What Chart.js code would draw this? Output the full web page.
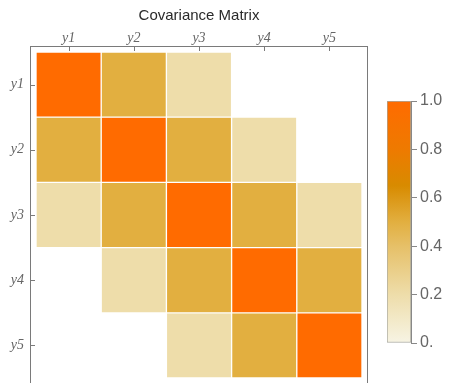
<!DOCTYPE html>
<html lang="en">
<head>
    <meta charset="UTF-8">
    <title>Covariance Matrix</title>

    <script src="https://cdn.jsdelivr.net/npm/chart.js"></script>

    <style>
        body {
            margin: 0;
            background: #fff;
            overflow: hidden;
        }

        .wrap {
            position: relative;
            width: 452px;
            height: 383px;
            overflow: hidden;
        }

        #matrix-chart {
            position: absolute;
            left: 0;
            top: 0;
        }

        #legend-chart {
            position: absolute;
            left: 360px;
            top: 80px;
        }
    </style>
</head>

<body>
    <div class="wrap">
        <canvas id="matrix-chart" width="452" height="400"></canvas>
        <canvas id="legend-chart" width="92" height="290"></canvas>
    </div>

    <script>
        // variable names (rows and columns)
        const varLabels = ["y1", "y2", "y3", "y4", "y5"];

        // covariance rows
        const rowY1 = [1.0, 0.5, 0.2, 0, 0];
        const rowY2 = [0.5, 1.0, 0.5, 0.2, 0];
        const rowY3 = [0.2, 0.5, 1.0, 0.5, 0.2];
        const rowY4 = [0, 0.2, 0.5, 1.0, 0.5];
        const rowY5 = [0, 0, 0.2, 0.5, 1.0];
        const matrixRows = [rowY1, rowY2, rowY3, rowY4, rowY5];

        // colour bar
        const barTicks = [0, 0.2, 0.4, 0.6, 0.8, 1.0];
        const stopValues = [0, 0.2, 0.4, 0.5, 0.65, 0.8, 1.0];
        const stopColors = ["#f7f4e4", "#eeddaa", "#e6c068", "#e2af40", "#d88b00", "#ee7a00", "#ff6b00"];

        function hexToRgb(h) {
            return [parseInt(h.slice(1, 3), 16), parseInt(h.slice(3, 5), 16), parseInt(h.slice(5, 7), 16)];
        }

        function valueColor(v) {
            for (let i = 1; i < stopValues.length; i++) {
                if (v <= stopValues[i]) {
                    const t = (v - stopValues[i - 1]) / (stopValues[i] - stopValues[i - 1]);
                    const a = hexToRgb(stopColors[i - 1]), b = hexToRgb(stopColors[i]);
                    const c = a.map((x, k) => Math.round(x + (b[k] - x) * t));
                    return `rgb(${c[0]}, ${c[1]}, ${c[2]})`;
                }
            }
            return stopColors[stopColors.length - 1];
        }

        const tickFont = { family: "'Liberation Serif', serif", style: "italic", size: 14 };

        // frame around the plot with inward tick marks
        const frameTicks = {
            id: "frameTicks",
            afterDatasetsDraw(chart) {
                const { ctx, chartArea: a, scales: { x, y } } = chart;
                ctx.save();
                ctx.strokeStyle = "#7a7a7a";
                ctx.lineWidth = 1;
                ctx.strokeRect(a.left + 0.5, a.top + 0.5, a.right - a.left - 1, a.bottom - a.top);
                ctx.beginPath();
                x.ticks.forEach(t => {
                    const px = Math.round(x.getPixelForValue(t.value)) + 0.5;
                    ctx.moveTo(px, a.top);
                    ctx.lineTo(px, a.top + 5);
                });
                y.ticks.forEach(t => {
                    const py = Math.round(y.getPixelForValue(t.value)) + 0.5;
                    ctx.moveTo(a.left, py);
                    ctx.lineTo(a.left + 5, py);
                });
                ctx.stroke();
                ctx.restore();
            }
        };

        const matrixDatasets = matrixRows.map((row, i) => ({
            data: row.map((v, j) => ({ x: j + 1, y: [i + 0.5, i + 1.5] })),
            backgroundColor: row.map(v => v > 0 ? valueColor(v) : "rgba(0,0,0,0)"),
            borderColor: row.map(v => v > 0 ? "rgba(255,255,255,0.14)" : "rgba(0,0,0,0)"),
            borderWidth: 1,
            borderSkipped: false,
            barPercentage: 1,
            categoryPercentage: 1,
            grouped: false
        }));

        const unitTicks = scale => { scale.ticks = varLabels.map((_, i) => ({ value: i + 1 })); };

        new Chart(document.getElementById("matrix-chart"), {
            type: "bar",
            data: { datasets: matrixDatasets },
            options: {
                responsive: false,
                animation: false,
                layout: { padding: { left: 0, top: 0, right: 84, bottom: 16 } },
                plugins: { legend: { display: false }, tooltip: { enabled: false } },
                scales: {
                    x: {
                        type: "linear",
                        position: "top",
                        offset: false,
                        min: 0.408,
                        max: 5.592,
                        afterBuildTicks: unitTicks,
                        afterFit: s => { s.height = 46; s.paddingLeft = 0; s.paddingRight = 0; },
                        grid: { display: false, drawTicks: false },
                        border: { display: false },
                        ticks: { callback: v => varLabels[v - 1], font: tickFont, color: "#666", padding: -1, maxRotation: 0 },
                        title: {
                            display: true,
                            text: "Covariance Matrix",
                            color: "#2a2a2a",
                            font: { family: "'Liberation Sans', Arial, sans-serif", size: 15 },
                            padding: { top: 7, bottom: 0 }
                        }
                    },
                    y: {
                        type: "linear",
                        reverse: true,
                        offset: false,
                        min: 0.408,
                        max: 5.592,
                        afterBuildTicks: unitTicks,
                        afterFit: s => { s.width = 30; s.paddingTop = 0; s.paddingBottom = 0; },
                        grid: { display: false, drawTicks: false },
                        border: { display: false },
                        ticks: { callback: v => varLabels[v - 1], font: tickFont, color: "#666", padding: 6 }
                    }
                }
            },
            plugins: [frameTicks]
        });

        // colour bar legend
        new Chart(document.getElementById("legend-chart"), {
            type: "bar",
            data: {
                labels: [""],
                datasets: [{
                    data: [[0, 1]],
                    backgroundColor(c) {
                        const { ctx, chartArea, scales } = c.chart;
                        if (!chartArea) return stopColors[0];
                        const g = ctx.createLinearGradient(0, scales.y.getPixelForValue(0), 0, scales.y.getPixelForValue(1));
                        stopValues.forEach((v, i) => g.addColorStop(v, stopColors[i]));
                        return g;
                    },
                    borderColor: "#a8a8a0",
                    borderWidth: 1,
                    borderSkipped: false,
                    barPercentage: 1,
                    categoryPercentage: 1
                }]
            },
            options: {
                responsive: false,
                animation: false,
                layout: { padding: { left: 27, top: 21, right: 0, bottom: 27 } },
                plugins: { legend: { display: false }, tooltip: { enabled: false } },
                scales: {
                    x: { display: false },
                    y: {
                        position: "right",
                        min: 0,
                        max: 1,
                        afterBuildTicks: s => { s.ticks = barTicks.map(v => ({ value: v })); },
                        afterFit: s => { s.width = 41; s.paddingTop = 0; s.paddingBottom = 0; },
                        grid: { drawOnChartArea: false, tickLength: 6, color: "#888" },
                        border: { display: true, color: "#888" },
                        ticks: {
                            callback: v => v === 0 ? "0." : v.toFixed(1),
                            font: { family: "'Liberation Sans', Arial, sans-serif", size: 16 },
                            color: "#666",
                            padding: 3
                        }
                    }
                }
            }
        });
    </script>
</body>
</html>
